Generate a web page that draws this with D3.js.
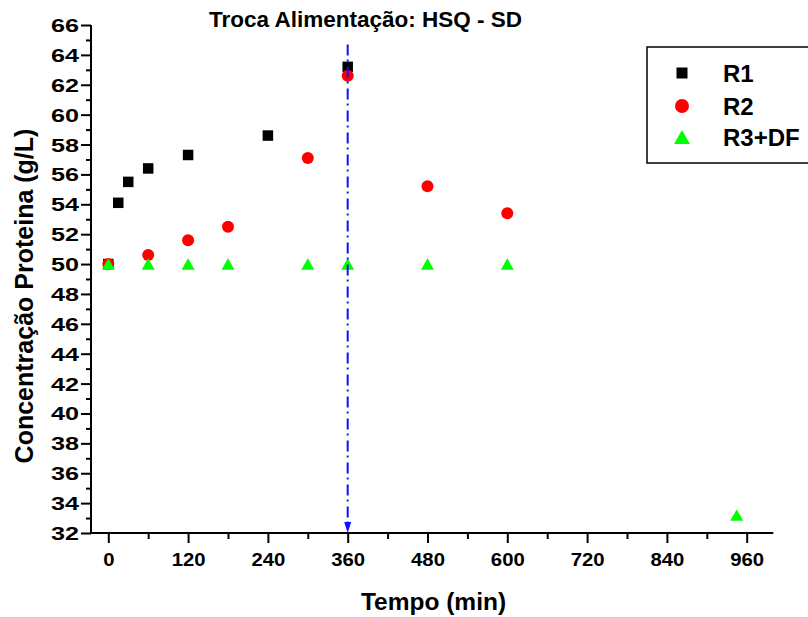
<!DOCTYPE html>
<html>
<head>
<meta charset="utf-8">
<script src="https://cdn.jsdelivr.net/npm/d3@7/dist/d3.min.js"></script>
<style>
  html, body { margin: 0; padding: 0; background: #fff; }
  svg { display: block; font-family: "Liberation Sans", Arial, sans-serif; }
</style>
</head>
<body>
<svg id="chart" width="808" height="617"></svg>
<script>
// ---- data ----
const titleText = "Troca Alimentação: HSQ - SD";
const xLabel = "Tempo (min)";
const yLabel = "Concentração Proteina (g/L)";
const seriesNames = ["R1", "R2", "R3+DF"];

const timeR1 = [0, 15, 30, 60, 120, 240, 360];
const valR1  = [50, 54.1, 55.5, 56.4, 57.3, 58.6, 63.2];

const timeR2 = [0, 60, 120, 180, 300, 360, 480, 600];
const valR2  = [50, 50.6, 51.6, 52.5, 57.1, 62.6, 55.2, 53.4];

const timeR3 = [0, 60, 120, 180, 300, 360, 480, 600, 945];
const valR3  = [50, 50, 50, 50, 50, 50, 50, 50, 33.2];

const xTicks = [0, 120, 240, 360, 480, 600, 720, 840, 960];
const xMinorTicks = [60, 180, 300, 420, 540, 660, 780, 900];
const yTicks = [32, 34, 36, 38, 40, 42, 44, 46, 48, 50, 52, 54, 56, 58, 60, 62, 64, 66];
const yMinorTicks = [33, 35, 37, 39, 41, 43, 45, 47, 49, 51, 53, 55, 57, 59, 61, 63, 65];
const switchTime = 360;
const switchTop = 64.7;

// ---- setup ----
const svg = d3.select("#chart");
const x = d3.scaleLinear().domain([-26, 1000]).range([91, 773.3]);
const y = d3.scaleLinear().domain([32, 66]).range([533, 25]);

// axes
const yMinor = svg.append("g").attr("transform", `translate(${x(-26)},0)`)
  .call(d3.axisLeft(y).tickValues(yMinorTicks).tickSize(5).tickFormat(""));
const yAxis = svg.append("g").attr("transform", `translate(${x(-26)},0)`)
  .call(d3.axisLeft(y).tickValues(yTicks).tickSize(10).tickPadding(2).tickFormat(d3.format("d")));
const xMinor = svg.append("g").attr("transform", `translate(0,${y(32)})`)
  .call(d3.axisBottom(x).tickValues(xMinorTicks).tickSize(6).tickFormat(""));
const xAxis = svg.append("g").attr("transform", `translate(0,${y(32)})`)
  .call(d3.axisBottom(x).tickValues(xTicks).tickSize(10).tickFormat(d3.format("d")));

[yMinor, yAxis, xMinor, xAxis].forEach(g => {
  g.selectAll(".tick line").attr("stroke", "#000").attr("stroke-width", 2);
});
yAxis.select(".domain").attr("stroke", "#000").attr("stroke-width", 2).attr("d", `M0,${y(32)}V${y(66)}`);
xAxis.select(".domain").attr("stroke", "#000").attr("stroke-width", 2).attr("d", `M${x(-26)},0H${x(1000)}`);
yMinor.select(".domain").remove();
xMinor.select(".domain").remove();

const ySx = 1.4;
yAxis.selectAll(".tick text")
  .attr("font-size", 18).attr("font-weight", "bold").attr("fill", "#000")
  .attr("font-family", "Liberation Sans, Arial, sans-serif")
  .attr("x", -12 / ySx).attr("dy", "0.36em")
  .attr("transform", `scale(${ySx},1)`);
xAxis.selectAll(".tick text")
  .attr("font-size", 19).attr("font-weight", "bold").attr("fill", "#000")
  .attr("font-family", "Liberation Sans, Arial, sans-serif")
  .attr("y", 33.5).attr("dy", 0)
  .attr("transform", "scale(1.07,1)");

// titles
svg.append("text").attr("x", 365.5).attr("y", 27).attr("text-anchor", "middle")
  .attr("font-size", 22.5).attr("font-weight", "bold").text(titleText);
svg.append("text").attr("x", 433.5).attr("y", 610).attr("text-anchor", "middle")
  .attr("font-size", 24.5).attr("font-weight", "bold").text(xLabel);
svg.append("text").attr("transform", "translate(33,296) rotate(-90)").attr("text-anchor", "middle")
  .attr("font-size", 25).attr("font-weight", "bold").text(yLabel);

// marker paths (centred on bounding box)
function squarePath(s) { const h = s / 2; return `M${-h},${-h}H${h}V${h}H${-h}Z`; }
function trianglePath(w, h) { return `M0,${-h/2}L${w/2},${h/2}L${-w/2},${h/2}Z`; }

const r1 = timeR1.map((t, i) => ({ t, v: valR1[i] }));
const r2 = timeR2.map((t, i) => ({ t, v: valR2[i] }));
const r3 = timeR3.map((t, i) => ({ t, v: valR3[i] }));

svg.append("g").selectAll("path").data(r1).join("path")
  .attr("d", squarePath(10.5))
  .attr("transform", d => `translate(${x(d.t)},${y(d.v)})`)
  .attr("fill", "#000");
svg.append("g").selectAll("circle").data(r2).join("circle")
  .attr("cx", d => x(d.t)).attr("cy", d => y(d.v)).attr("r", 6)
  .attr("fill", "#ff0000");
svg.append("g").selectAll("path").data(r3).join("path")
  .attr("d", trianglePath(13, 11.5))
  .attr("transform", d => `translate(${x(d.t)},${y(d.v)})`)
  .attr("fill", "#00ff00");

// switch line with arrow
const lx = x(switchTime);
svg.append("line")
  .attr("x1", lx).attr("x2", lx).attr("y1", y(switchTop)).attr("y2", y(32) - 10)
  .attr("stroke", "#1010ff").attr("stroke-width", 2)
  .attr("stroke-dasharray", "11,4,2,5");
svg.append("path")
  .attr("d", `M${lx - 3.5},${y(32) - 11}L${lx + 3.5},${y(32) - 11}L${lx},${y(32)}Z`)
  .attr("fill", "#1010ff");

// legend
const lg = svg.append("g");
lg.append("rect").attr("x", 647).attr("y", 47).attr("width", 200).attr("height", 116)
  .attr("fill", "#fff").attr("stroke", "#000").attr("stroke-width", 1.5);
const rowsY = [73, 106, 137];
lg.append("path").attr("d", squarePath(11)).attr("transform", `translate(682,${rowsY[0]})`).attr("fill", "#000");
lg.append("circle").attr("cx", 682).attr("cy", rowsY[1]).attr("r", 7).attr("fill", "#ff0000");
lg.append("path").attr("d", trianglePath(16, 14)).attr("transform", `translate(682,${rowsY[2]})`).attr("fill", "#00ff00");
lg.selectAll("text.lab").data(seriesNames).join("text").attr("class", "lab")
  .attr("x", 723).attr("y", (d, i) => rowsY[i] + 9)
  .attr("font-size", 24).attr("font-weight", "bold").text(d => d);
</script>
</body>
</html>
